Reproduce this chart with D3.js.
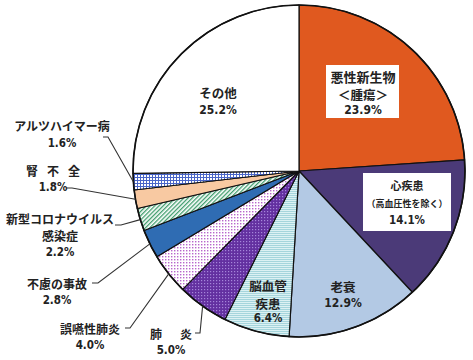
<!DOCTYPE html>
<html><head><meta charset="utf-8">
<script src="https://cdn.jsdelivr.net/npm/d3@7"></script>
<style>
html,body{margin:0;padding:0;background:#fff;}
svg text{font-family:"Noto Sans CJK JP","Noto Sans",sans-serif;font-weight:700;fill:#222;}
svg text.pct{font-family:"Liberation Sans Narrow","DejaVu Sans Condensed","Liberation Sans",sans-serif;font-weight:700;}
</style></head>
<body>
<svg id="chart" width="473" height="360"></svg>
<script>
// ---- data ----
const categories = ["悪性新生物＜腫瘍＞","心疾患（高血圧性を除く）","老衰","脳血管疾患","肺炎","誤嚥性肺炎","不慮の事故","新型コロナウイルス感染症","腎不全","アルツハイマー病","その他"];
const values = [23.9, 14.1, 12.9, 6.4, 5.0, 4.0, 2.8, 2.2, 1.8, 1.6, 25.2];
const valueLabels = ["23.9%","14.1%","12.9%","6.4%","5.0%","4.0%","2.8%","2.2%","1.8%","1.6%","25.2%"];
const labelLines = [["悪性新生物","＜腫瘍＞"],["心疾患","（高血圧性を除く）"],["老衰"],["脳血管","疾患"],["肺炎"],["誤嚥性肺炎"],["不慮の事故"],["新型コロナウイルス","感染症"],["腎不全"],["アルツハイマー病"],["その他"]];

// ---- layout / style ----
const cx = 299, cy = 171, R = 166;
const fills = ["#e0591f","#4b3a78","#b3c9e4","url(#pCereb)","url(#pPneu)","url(#pAsp)","#2f6cb3","url(#pCovid)","#f8c9a2","url(#pGrid)","#ffffff"];

const svg = d3.select("#chart");
const defs = svg.append("defs");
let p = defs.append("pattern").attr("id","pGrid").attr("patternUnits","userSpaceOnUse").attr("width",3).attr("height",3);
p.append("rect").attr("width",3).attr("height",3).attr("fill","#fff");
p.append("rect").attr("width",3).attr("height",1).attr("fill","#4a66c8");
p.append("rect").attr("width",1).attr("height",3).attr("fill","#4a66c8");
p = defs.append("pattern").attr("id","pCovid").attr("patternUnits","userSpaceOnUse").attr("width",3).attr("height",3).attr("patternTransform","rotate(-45)");
p.append("rect").attr("width",3).attr("height",3).attr("fill","#fff");
p.append("rect").attr("width",3).attr("height",1.3).attr("fill","#3f9c6c");
p = defs.append("pattern").attr("id","pAsp").attr("patternUnits","userSpaceOnUse").attr("width",3).attr("height",3);
p.append("rect").attr("width",3).attr("height",3).attr("fill","#fff");
p.append("rect").attr("x",1).attr("y",1).attr("width",1.4).attr("height",1.4).attr("fill","#b866cc");
p = defs.append("pattern").attr("id","pPneu").attr("patternUnits","userSpaceOnUse").attr("width",3).attr("height",3);
p.append("rect").attr("width",3).attr("height",3).attr("fill","#6330a0");
p.append("rect").attr("x",1).attr("y",1).attr("width",1.2).attr("height",1.2).attr("fill","#a585da");
p = defs.append("pattern").attr("id","pCereb").attr("patternUnits","userSpaceOnUse").attr("width",3).attr("height",2);
p.append("rect").attr("width",3).attr("height",2).attr("fill","#dcf1f3");
p.append("rect").attr("width",3).attr("height",0.9).attr("fill","#9fd2da");

const pie = d3.pie().sort(null).value(d => d)(values);
const arc = d3.arc().innerRadius(0).outerRadius(R);
const g = svg.append("g").attr("transform",`translate(${cx},${cy})`);
g.selectAll("path.slice").data(pie).join("path").attr("class","slice")
  .attr("d",arc).attr("fill",(d,i)=>fills[i]).attr("stroke","#111").attr("stroke-width",1.2).attr("stroke-linejoin","round");
g.append("circle").attr("r",R).attr("fill","none").attr("stroke","#111").attr("stroke-width",1.6);

const inside = [
  {i:0, x:64, ys:[-95,-77,-61], sizes:[13,12.5,12], box:[-37,-106,73,53]},
  {i:1, x:108, ys:[14,32,49], sizes:[11,9,11.5], box:[-44,2,88,58]},
  {i:2, x:44, ys:[115,132], sizes:[12.5,12]},
  {i:3, x:-31, ys:[114,132,147], sizes:[12.5,12.5,11.5]},
  {i:10, x:-81, ys:[-79,-61], sizes:[12.5,12]}
];
inside.forEach(L => {
  const lines = labelLines[L.i].concat([valueLabels[L.i]]);
  if (L.box) g.append("rect").attr("x",L.x+L.box[0]).attr("y",L.box[1]).attr("width",L.box[2]).attr("height",L.box[3]).attr("fill","#fff");
  lines.forEach((t,k)=>{
    g.append("text").attr("class",k===lines.length-1?"pct":null)
      .attr("x",L.x).attr("y",L.ys[k]).attr("text-anchor","middle").attr("dominant-baseline","central")
      .style("font-size",L.sizes[k]+"px").text(t);
  });
});

const outside = [
  {i:9, x:62, ys:[125,143], ls:0, lead:[[103,137],[108,137]]},
  {i:8, x:53, ys:[170,187], ls:9, lead:[[66,188],[72,188]]},
  {i:7, x:60, ys:[218,235,252], ls:0, lead:[[115,225],[121,225]]},
  {i:6, x:57, ys:[283,300], ls:0, lead:[[92,283],[98,283]]},
  {i:5, x:90, ys:[328,345], ls:0, lead:[[125,328],[130,328]]},
  {i:4, x:171, ys:[333,350], ls:18, lead:[[195,333],[200,333]]}
];
outside.forEach(L => {
  const lines = labelLines[L.i].concat([valueLabels[L.i]]);
  lines.forEach((t,k)=>{
    const isPct = k===lines.length-1;
    const txt = svg.append("text").attr("class",isPct?"pct":null)
      .attr("y",L.ys[k]).attr("dominant-baseline","central")
      .style("font-size",(isPct?11.5:12)+"px").text(t);
    if (!isPct && L.ls) {
      const w = t.length*12 + (t.length-1)*L.ls;
      txt.attr("x",L.x - w/2).attr("text-anchor","start").style("letter-spacing",L.ls+"px");
    } else {
      txt.attr("x",L.x).attr("text-anchor","middle");
    }
  });
  const d = pie[L.i];
  const a = (d.startAngle+d.endAngle)/2;
  const end = [cx + R*Math.sin(a), cy - R*Math.cos(a)];
  svg.append("path").attr("d",d3.line()(L.lead.concat([end]))).attr("fill","none").attr("stroke","#333").attr("stroke-width",1.1);
});
</script>
</body></html>
